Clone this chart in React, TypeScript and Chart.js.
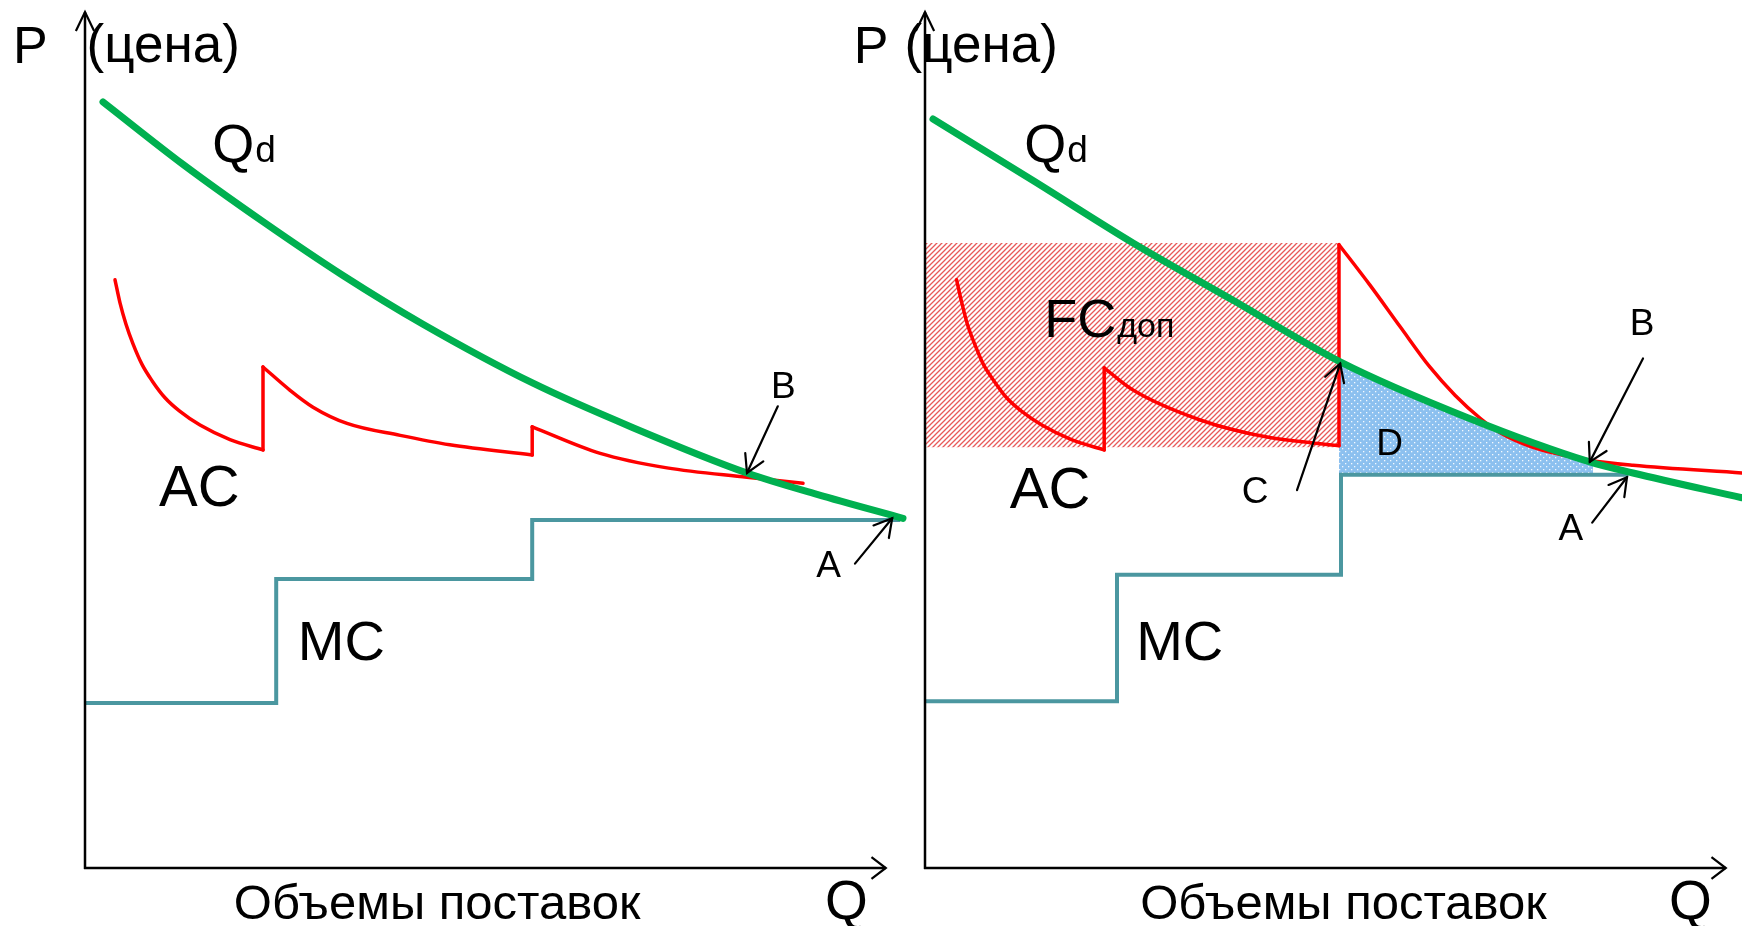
import React, { useEffect, useRef } from 'react';
import { Chart, registerables } from 'chart.js';

Chart.register(...registerables);

const FONT = '"Liberation Sans", Arial, "DejaVu Sans", sans-serif';

// ---------- LEFT PANEL DATA (Q: 0..100, P: 0..100) ----------
const qdLeftQ = [2.25, 12.25, 22.25, 32.25, 42.25, 56, 68.5, 82.75, 91.5, 102.25];
const qdLeftP = [89.6, 82.3, 75.6, 69.3, 63.6, 56.7, 51.5, 46.2, 43.7, 40.9];

const acLeftQ1 = [3.75, 4.375, 5.125, 6.0, 7.125, 8.375, 10.0, 11.875, 14.375, 18.125, 22.25];
const acLeftP1 = [68.8, 66.1, 63.6, 61.3, 58.9, 57.0, 55.0, 53.4, 51.8, 50.1, 48.9];
const acLeftQ2 = [22.25, 25.6, 28.5, 32.75, 39.4, 45.6, 55.9];
const acLeftP2 = [58.6, 55.9, 53.9, 52.0, 50.6, 49.5, 48.3];
const acLeftQ3 = [55.9, 64.4, 72.75, 82.75, 89.75];
const acLeftP3 = [51.6, 48.5, 46.8, 45.7, 45.0];

const mcLeftEdges = [0, 23.9, 55.9, 101.9];
const mcLeftLevels = [19.3, 33.8, 40.7];

// ---------- RIGHT PANEL DATA ----------
const qdRightQ = [1, 13.5, 26, 38.5, 51.9, 67.75, 83.1, 88.5, 102.1];
const qdRightP = [87.6, 80.4, 73.1, 66.4, 59.2, 52.7, 47.5, 46.2, 43.3];

const acRightQ1 = [3.95, 4.6, 5.3, 6.2, 7.3, 8.6, 10.2, 12.1, 14.6, 18.3, 22.4];
const acRightP1 = [68.8, 66.1, 63.6, 61.3, 58.9, 57.0, 55.0, 53.4, 51.8, 50.1, 48.9];
const acRightQ2 = [22.4, 26, 34.4, 42.75, 51.75];
const acRightP2 = [58.5, 55.9, 52.4, 50.4, 49.4];
const acRightQ3 = [51.75, 55.6, 59.4, 63.1, 66.25, 69.4, 71.9, 76, 83.1, 88.5, 102.1];
const acRightP3 = [72.9, 68.2, 63.3, 58.6, 55.3, 52.6, 50.9, 49.2, 47.7, 47.1, 46.2];

const mcRightEdges = [0, 24, 52, 87.9];
const mcRightLevels = [19.5, 34.3, 46.0];

// FC_доп rectangle (hatched)
const fcQ = [0, 51.75];
const fcTop = 73.1;
const fcBottom = 49.2;

// D area (dotted) – under demand, above MC
const dAreaQ = [51.75, 67.75, 83.1, 83.5];
const dAreaP = [59.2, 52.7, 47.5, 47.4];

// ---------- LABELS / ARROWS ----------
type Txt = { t: string; sub?: string; q: number; p: number; s: number; ss?: number };
type Arr = { from: [number, number]; to: [number, number] };

const leftTexts: Txt[] = [
  { t: 'P', q: -9.0, p: 94.2, s: 52 },
  { t: '(цена)', q: 0.2, p: 94.3, s: 53 },
  { t: 'Q', sub: 'd', q: 15.9, p: 82.6, s: 54, ss: 37 },
  { t: 'AC', q: 9.25, p: 42.3, s: 58 },
  { t: 'MC', q: 26.6, p: 24.3, s: 56 },
  { t: 'B', q: 85.75, p: 55.0, s: 37 },
  { t: 'A', q: 91.4, p: 34.0, s: 37 },
  { t: 'Объемы поставок', q: 18.6, p: -6.0, s: 49 },
  { t: 'Q', q: 92.5, p: -6.0, s: 55 },
];
const leftArrows: Arr[] = [
  { from: [86.6, 54.0], to: [82.75, 46.2] },
  { from: [96.25, 35.6], to: [100.9, 40.9] },
];

const rightTexts: Txt[] = [
  { t: 'P', q: -8.9, p: 94.2, s: 52 },
  { t: '(цена)', q: -2.55, p: 94.3, s: 53 },
  { t: 'Q', sub: 'd', q: 12.4, p: 82.6, s: 54, ss: 37 },
  { t: 'FC', sub: 'доп', q: 14.9, p: 62.1, s: 54, ss: 34 },
  { t: 'AC', q: 10.6, p: 42.1, s: 58 },
  { t: 'MC', q: 26.4, p: 24.3, s: 56 },
  { t: 'C', q: 39.6, p: 42.7, s: 37 },
  { t: 'D', q: 56.4, p: 48.3, s: 37 },
  { t: 'B', q: 88.1, p: 62.3, s: 37 },
  { t: 'A', q: 79.2, p: 38.4, s: 37 },
  { t: 'Объемы поставок', q: 26.9, p: -6.0, s: 49 },
  { t: 'Q', q: 93.0, p: -6.0, s: 55 },
];
const rightArrows: Arr[] = [
  { from: [46.5, 44.2], to: [51.9, 59.0] },
  { from: [89.75, 59.6], to: [83.1, 47.5] },
  { from: [83.4, 40.4], to: [87.75, 45.7] },
];

// ---------- helpers ----------
const GREEN = '#00b050';
const RED = '#ff0000';
const TEAL = '#4b97a0';

const pts = (qs: number[], ps: number[]) => qs.map((q, i) => ({ x: q, y: ps[i] }));
const steps = (edges: number[], levels: number[]) => {
  const out: { x: number; y: number }[] = [];
  levels.forEach((lv, i) => {
    out.push({ x: edges[i], y: lv });
    out.push({ x: edges[i + 1], y: lv });
  });
  return out;
};

const line = (data: any[], color: string, width: number, order: number, extra: any = {}) => ({
  data,
  borderColor: color,
  borderWidth: width,
  pointRadius: 0,
  fill: false,
  tension: 0,
  borderCapStyle: 'round',
  borderJoinStyle: 'miter',
  clip: false,
  order,
  ...extra,
});
const curve = (data: any[], color: string, width: number, order: number) =>
  line(data, color, width, order, { cubicInterpolationMode: 'monotone' });

function acDatasets(q1: number[], p1: number[], q2: number[], p2: number[], q3: number[], p3: number[]) {
  const w = 3.5;
  return [
    curve(pts(q1, p1), RED, w, 1),
    line([{ x: q1[q1.length - 1], y: p1[p1.length - 1] }, { x: q2[0], y: p2[0] }], RED, w, 1),
    curve(pts(q2, p2), RED, w, 1),
    line([{ x: q2[q2.length - 1], y: p2[p2.length - 1] }, { x: q3[0], y: p3[0] }], RED, w, 1),
    curve(pts(q3, p3), RED, w, 1),
  ];
}

function makeHatch(): CanvasPattern | string {
  const c = document.createElement('canvas');
  c.width = 5;
  c.height = 5;
  const g = c.getContext('2d');
  if (!g) return 'rgba(230,80,80,0.5)';
  g.fillStyle = '#ffffff';
  g.fillRect(0, 0, 5, 5);
  g.strokeStyle = 'rgba(228,60,60,0.85)';
  g.lineWidth = 1.3;
  g.beginPath();
  g.moveTo(-1, 6);
  g.lineTo(6, -1);
  g.moveTo(-2, 2);
  g.lineTo(2, -2);
  g.moveTo(3, 7);
  g.lineTo(7, 3);
  g.stroke();
  return g.createPattern(c, 'repeat') || 'rgba(230,80,80,0.5)';
}

function makeDots(): CanvasPattern | string {
  const c = document.createElement('canvas');
  c.width = 6;
  c.height = 6;
  const g = c.getContext('2d');
  if (!g) return '#8fc3f0';
  g.fillStyle = '#8cc0ef';
  g.fillRect(0, 0, 6, 6);
  g.fillStyle = 'rgba(255,255,255,0.9)';
  g.fillRect(1, 1, 1.3, 1.3);
  g.fillRect(4, 4, 1.3, 1.3);
  return g.createPattern(c, 'repeat') || '#8fc3f0';
}

function arrowHead(ctx: CanvasRenderingContext2D, x1: number, y1: number, x2: number, y2: number, len: number, ang: number) {
  const a = Math.atan2(y2 - y1, x2 - x1);
  ctx.beginPath();
  ctx.moveTo(x2 - len * Math.cos(a - ang), y2 - len * Math.sin(a - ang));
  ctx.lineTo(x2, y2);
  ctx.lineTo(x2 - len * Math.cos(a + ang), y2 - len * Math.sin(a + ang));
  ctx.stroke();
}

function overlayPlugin(texts: Txt[], arrows: Arr[]) {
  return {
    id: 'overlay',
    afterDatasetsDraw(chart: any) {
      const ctx: CanvasRenderingContext2D = chart.ctx;
      const xs = chart.scales.x;
      const ys = chart.scales.y;
      const X = (v: number) => xs.getPixelForValue(v);
      const Y = (v: number) => ys.getPixelForValue(v);
      ctx.save();
      // axes
      ctx.strokeStyle = '#000';
      ctx.lineWidth = 2.5;
      ctx.lineCap = 'butt';
      ctx.lineJoin = 'miter';
      const ox = X(0), oy = Y(0);
      const ty = Y(100.1), tx = X(100.1);
      ctx.beginPath();
      ctx.moveTo(ox, oy + 1);
      ctx.lineTo(ox, ty);
      ctx.moveTo(ox - 1, oy);
      ctx.lineTo(tx, oy);
      ctx.stroke();
      ctx.lineWidth = 2.2;
      arrowHead(ctx, ox, oy, ox, ty, 21, 0.45);
      arrowHead(ctx, ox, oy, tx, oy, 18, 0.65);
      // arrows
      ctx.lineWidth = 2.2;
      ctx.lineCap = 'round';
      for (const a of arrows) {
        const x1 = X(a.from[0]), y1 = Y(a.from[1]);
        const x2 = X(a.to[0]), y2 = Y(a.to[1]);
        ctx.beginPath();
        ctx.moveTo(x1, y1);
        ctx.lineTo(x2, y2);
        ctx.stroke();
        arrowHead(ctx, x1, y1, x2, y2, 20, 0.52);
      }
      // texts
      ctx.fillStyle = '#000';
      ctx.textBaseline = 'alphabetic';
      ctx.textAlign = 'left';
      for (const l of texts) {
        const x = X(l.q), y = Y(l.p);
        ctx.font = `${l.s}px ${FONT}`;
        ctx.fillText(l.t, x, y);
        if (l.sub) {
          const w = ctx.measureText(l.t).width;
          ctx.font = `${l.ss}px ${FONT}`;
          ctx.fillText(l.sub, x + w + 1, y);
        }
      }
      ctx.restore();
    },
  };
}

function baseOptions() {
  return {
    responsive: false,
    animation: false,
    events: [],
    layout: { padding: { left: 85, right: 0, top: 13, bottom: 58 } },
    scales: {
      x: { type: 'linear', min: 0, max: 105, display: false },
      y: { type: 'linear', min: 0, max: 100, display: false },
    },
    plugins: { legend: { display: false }, tooltip: { enabled: false } },
    elements: { point: { radius: 0 } },
  };
}

const CW = 925;
const CH = 926;

export default function App() {
  const leftRef = useRef<HTMLCanvasElement>(null);
  const rightRef = useRef<HTMLCanvasElement>(null);

  useEffect(() => {
    const hatch = makeHatch();
    const dots = makeDots();

    const leftDatasets: any[] = [
      curve(pts(qdLeftQ, qdLeftP), GREEN, 7, 0),
      ...acDatasets(acLeftQ1, acLeftP1, acLeftQ2, acLeftP2, acLeftQ3, acLeftP3),
      line(steps(mcLeftEdges, mcLeftLevels), TEAL, 4, 2, { borderCapStyle: 'butt' }),
    ];

    const rightDatasets: any[] = [
      curve(pts(qdRightQ, qdRightP), GREEN, 7, 0),
      ...acDatasets(acRightQ1, acRightP1, acRightQ2, acRightP2, acRightQ3, acRightP3),
      line(steps(mcRightEdges, mcRightLevels), TEAL, 4, 2, { borderCapStyle: 'butt' }),
      line(pts(dAreaQ, dAreaP), 'rgba(0,0,0,0)', 0, 4, {
        cubicInterpolationMode: 'monotone',
        fill: { value: mcRightLevels[2] },
        backgroundColor: dots,
      }),
      line(fcQ.map((q) => ({ x: q, y: fcTop })), 'rgba(0,0,0,0)', 0, 5, {
        fill: { value: fcBottom },
        backgroundColor: hatch,
      }),
    ];

    const left = new Chart(leftRef.current as HTMLCanvasElement, {
      type: 'line',
      data: { datasets: leftDatasets },
      options: baseOptions() as any,
      plugins: [overlayPlugin(leftTexts, leftArrows)],
    });
    const right = new Chart(rightRef.current as HTMLCanvasElement, {
      type: 'line',
      data: { datasets: rightDatasets },
      options: baseOptions() as any,
      plugins: [overlayPlugin(rightTexts, rightArrows)],
    });
    return () => {
      left.destroy();
      right.destroy();
    };
  }, []);

  return (
    <div
      style={{
        position: 'fixed',
        left: 0,
        top: 0,
        width: 1742,
        height: 926,
        overflow: 'hidden',
        background: '#ffffff',
      }}
    >
      <canvas ref={leftRef} width={CW} height={CH} style={{ position: 'absolute', left: 0, top: 0 }} />
      <canvas ref={rightRef} width={CW} height={CH} style={{ position: 'absolute', left: 840, top: 0 }} />
    </div>
  );
}
